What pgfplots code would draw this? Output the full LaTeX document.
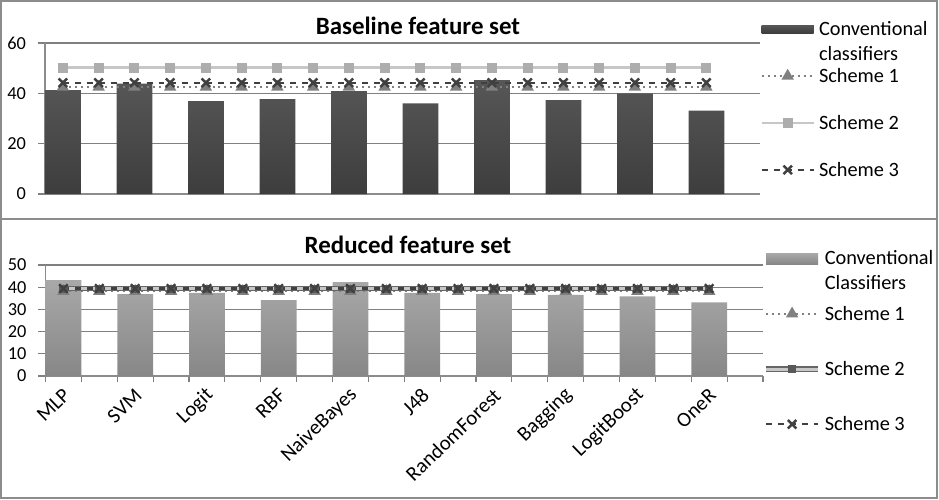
\documentclass[border=0pt]{standalone}
\usepackage{pgfplots}
\pgfplotsset{compat=1.18}
\usepackage{fontspec}
\setmainfont{Carlito}
\pgfplotstableread{
x y
0 41.3
2 43.9
4 36.9
6 37.7
8 40.9
10 36.0
12 45.2
14 37.3
16 40.0
18 33.1
}\basebars
\pgfplotstableread{
x y
0 43.2
2 36.9
4 37.5
6 34.2
8 42.3
10 37.5
12 36.9
14 36.5
16 35.9
18 33.2
}\redbars
\pgfplotsset{
  panel/.style={
    scale only axis,
    xmin=-0.5, xmax=19.5, ymin=0,
    axis x line*=bottom, axis y line*=left,
    axis line style={black!45, line width=0.6bp, -},
    ymajorgrids, grid style={black!50, line width=0.6bp},
    tick align=outside, major tick length=3.5bp, minor tick length=3bp,
    tick style={black!50, line width=0.6bp},
    /pgf/number format/assume math mode=true,
    tick label style={font=\fontsize{9.2}{11}\selectfont},
    yticklabel style={xshift=-2.5bp},
    clip=false,
    legend cell align=left,
  },
  lineleg/.style={legend image code/.code={\draw[mark repeat=2,mark phase=2,##1] plot coordinates {(0bp,0bp) (13bp,0bp) (26bp,0bp)};}},
}
\newcommand{\twoline}[2]{\smash{\vtop{\baselineskip=12.5bp\hbox{#1}\hbox{#2}}}\strut}
\begin{document}
\begin{tikzpicture}
\begin{scope}[x=0.5bp,y=-0.5bp]
\draw[black!45, line width=1bp] (1.5,1.5) rectangle (937,219);
\draw[black!45, line width=1bp] (1.5,219) rectangle (937,498);
\node[font=\fontsize{12.5}{15}\selectfont\bfseries] at (418,26) {Baseline feature set};
\node[font=\fontsize{12.5}{15}\selectfont\bfseries] at (408,245) {Reduced feature set};
\end{scope}

\begin{axis}[panel,
  at={(22.5bp,-97bp)}, anchor=south west,
  width=357.5bp, height=75.5bp,
  ymax=60, ytick={0,20,40,60}, xtick=\empty,
  legend style={at={(1.0,1.16)}, anchor=north west, draw=none, fill=none,
    inner sep=0pt, row sep=13.6bp, column sep=2bp,
    nodes={inner sep=0pt, font=\fontsize{10.2}{12}\selectfont}},
]
\addplot[ybar, bar width=1, draw=none, top color=black!66, bottom color=black!76,
  legend image code/.code={\fill[black!70] (0bp,-2bp) rectangle (26bp,2bp);}]
  table[x=x,y=y] {\basebars};
\addlegendentry{\twoline{Conventional}{classifiers}}
\addplot[lineleg, black!50, dotted, line width=1bp, mark=triangle*, mark size=2.6bp,
  mark options={solid, fill=black!50}]
  coordinates {(0,42.5)(1,42.5)(2,42.5)(3,42.5)(4,42.5)(5,42.5)(6,42.5)(7,42.5)(8,42.5)(9,42.5)(10,42.5)(11,42.5)(12,42.5)(13,42.5)(14,42.5)(15,42.5)(16,42.5)(17,42.5)(18,42.5)};
\addlegendentry{Scheme 1\strut}
\addplot[lineleg, black!22, line width=1.3bp, mark=square*, mark size=1.8bp,
  mark options={fill=black!32, draw=black!32}]
  coordinates {(0,50.2)(1,50.2)(2,50.2)(3,50.2)(4,50.2)(5,50.2)(6,50.2)(7,50.2)(8,50.2)(9,50.2)(10,50.2)(11,50.2)(12,50.2)(13,50.2)(14,50.2)(15,50.2)(16,50.2)(17,50.2)(18,50.2)};
\addlegendentry{Scheme 2\strut}
\addplot[lineleg, black!75, dashed, line width=1.2bp, mark=x, mark size=3bp,
  mark options={solid}]
  coordinates {(0,44.2)(1,44.2)(2,44.2)(3,44.2)(4,44.2)(5,44.2)(6,44.2)(7,44.2)(8,44.2)(9,44.2)(10,44.2)(11,44.2)(12,44.2)(13,44.2)(14,44.2)(15,44.2)(16,44.2)(17,44.2)(18,44.2)};
\addlegendentry{Scheme 3\strut}
\end{axis}

\begin{axis}[panel,
  at={(22.75bp,-188bp)}, anchor=south west,
  width=358.75bp, height=55.5bp,
  ymax=50, ytick={0,10,...,50},
  xtick={0,2,...,18},
  xticklabels={MLP,SVM,Logit,RBF,NaiveBayes,J48,RandomForest,Bagging,LogitBoost,OneR},
  major x tick style={draw=none},
  minor xtick={-0.5,0.5,...,19.5},
  xticklabel style={rotate=44, anchor=east, yshift=-4.5bp, xshift=1.5bp,
    font=\fontsize{10.4}{12}\selectfont},
  legend style={at={(1.0,1.145)}, anchor=north west, draw=none, fill=none,
    inner sep=0pt, row sep=18.3bp, column sep=2bp,
    nodes={inner sep=0pt, font=\fontsize{10.2}{11.2}\selectfont}},
]
\addplot[ybar, bar width=1, draw=none, top color=black!34, bottom color=black!47,
  legend image code/.code={\fill[black!38] (0bp,-2.75bp) rectangle (26bp,2.75bp);}]
  table[x=x,y=y] {\redbars};
\addlegendentry{\twoline{Conventional}{Classifiers}}
\addplot[lineleg, black!50, dotted, line width=1bp, mark=triangle*, mark size=2.6bp,
  mark options={solid, fill=black!50}]
  coordinates {(0,38.2)(1,38.2)(2,38.2)(3,38.2)(4,38.2)(5,38.2)(6,38.2)(7,38.2)(8,38.2)(9,38.2)(10,38.2)(11,38.2)(12,38.2)(13,38.2)(14,38.2)(15,38.2)(16,38.2)(17,38.2)(18,38.2)};
\addlegendentry{Scheme 1\strut}
\addplot[lineleg, draw=black!60, double=black!22, double distance=1.5bp, line width=0.6bp,
  mark=square*, mark size=1.8bp, mark options={fill=black!65, draw=black!65}]
  coordinates {(0,39.3)(1,39.3)(2,39.3)(3,39.3)(4,39.3)(5,39.3)(6,39.3)(7,39.3)(8,39.3)(9,39.3)(10,39.3)(11,39.3)(12,39.3)(13,39.3)(14,39.3)(15,39.3)(16,39.3)(17,39.3)(18,39.3)};
\addlegendentry{Scheme 2\strut}
\addplot[lineleg, black!75, dashed, line width=1.2bp, mark=x, mark size=3bp,
  mark options={solid}]
  coordinates {(0,39.4)(1,39.4)(2,39.4)(3,39.4)(4,39.4)(5,39.4)(6,39.4)(7,39.4)(8,39.4)(9,39.4)(10,39.4)(11,39.4)(12,39.4)(13,39.4)(14,39.4)(15,39.4)(16,39.4)(17,39.4)(18,39.4)};
\addlegendentry{Scheme 3\strut}
\end{axis}
\pgfresetboundingbox
\path (0,0) rectangle (469.5bp,-250bp);
\end{tikzpicture}
\end{document}
